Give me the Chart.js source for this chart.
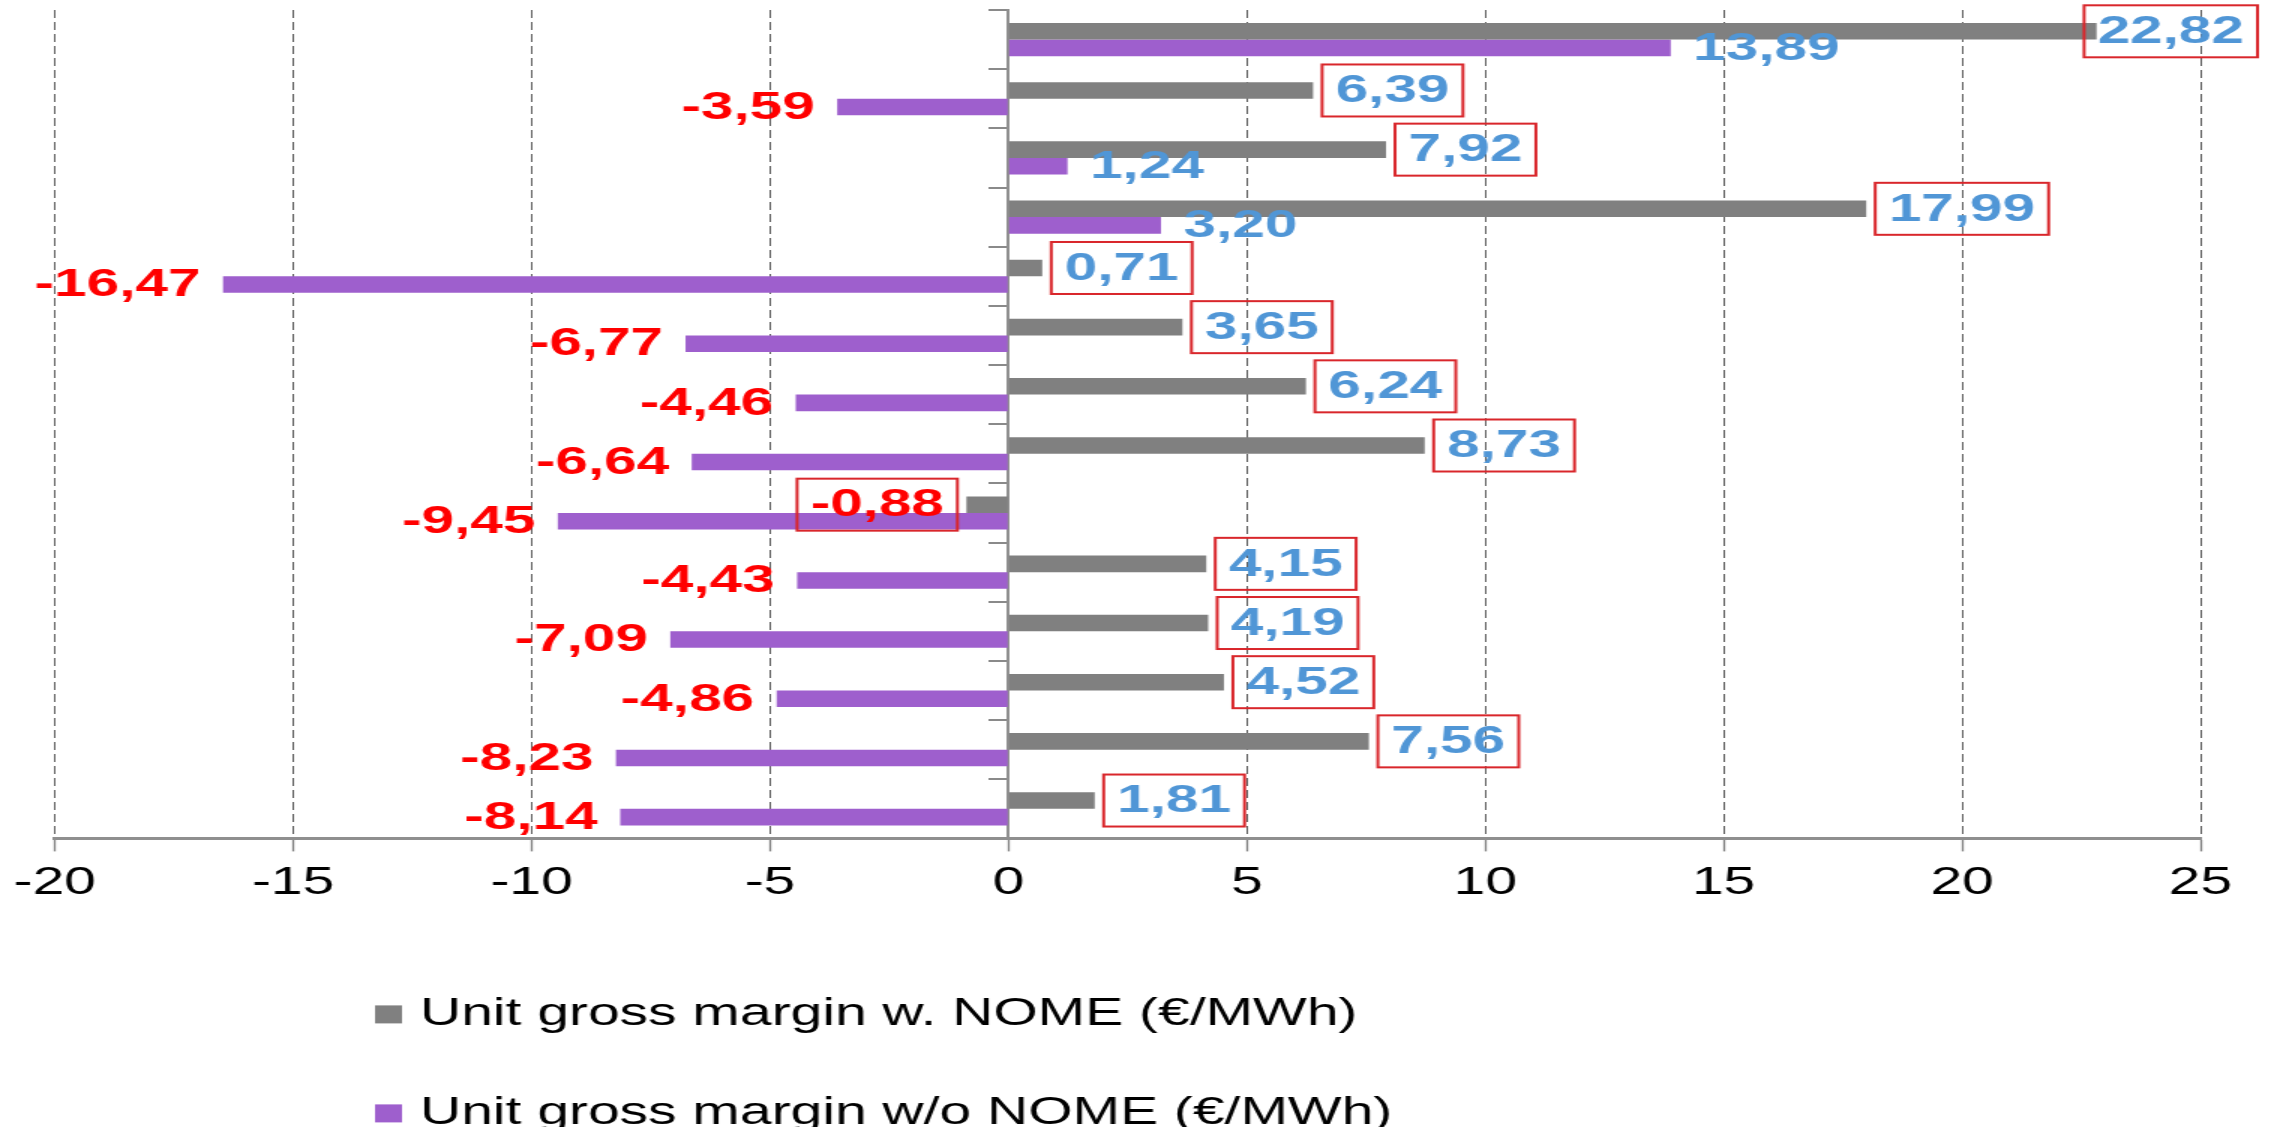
<!DOCTYPE html>
<html>
<head>
<meta charset="utf-8">
<script src="https://cdn.jsdelivr.net/npm/chart.js@4/dist/chart.umd.min.js"></script>
<style>
  html, body { margin: 0; padding: 0; background: #ffffff; overflow: hidden; }
  canvas { display: block; }
</style>
</head>
<body>
<!-- drawn at 1518 px wide and shown 1.5x wider, giving the wide lettering and proportions -->
<canvas id="chart" width="1518" height="1127" style="width:2277px;height:1127px"></canvas>
<script>
// Rows, top to bottom
const categories = ['1', '2', '3', '4', '5', '6', '7', '8', '9', '10', '11', '12', '13', '14'];

const seriesNames = [
  'Unit gross margin w. NOME (€/MWh)',
  'Unit gross margin w/o NOME (€/MWh)'
];

// Unit gross margin with NOME (€/MWh)
const marginWithNome = [22.82, 6.39, 7.92, 17.99, 0.71, 3.65, 6.24, 8.73, -0.88, 4.15, 4.19, 4.52, 7.56, 1.81];

// Unit gross margin without NOME (€/MWh)
const marginWithoutNome = [13.89, -3.59, 1.24, 3.20, -16.47, -6.77, -4.46, -6.64, -9.45, -4.43, -7.09, -4.86, -8.23, -8.14];

// Value axis ticks
const xTickValues = [-20, -15, -10, -5, 0, 5, 10, 15, 20, 25];

const seriesColors = ['#808080', '#9e5fcd'];

const formatValue = v => v.toFixed(2).replace('.', ',');

// Value labels: the first series gets a red frame, positives in blue, negatives in red
const valueLabels = {
  id: 'valueLabels',
  afterDatasetsDraw(chart) {
    const ctx = chart.ctx;
    ctx.save();
    ctx.font = 'bold 39px "Liberation Sans", Arial, sans-serif';
    ctx.textBaseline = 'middle';
    ctx.textAlign = 'left';
    const gap = 6, pad = 9, boxH = 52;
    const maxRight = chart.width - 13;
    chart.data.datasets.forEach((ds, di) => {
      const meta = chart.getDatasetMeta(di);
      meta.data.forEach((bar, i) => {
        const v = ds.data[i];
        const text = formatValue(v);
        const w = ctx.measureText(text).width;
        const neg = v < 0;
        let textX;
        if (di === 0) {
          const boxW = w + 2 * pad;
          let bx = neg ? bar.x - gap - boxW : bar.x + gap;
          if (bx + boxW > maxRight) bx = maxRight - boxW;
          ctx.strokeStyle = '#d9262b';
          ctx.lineWidth = 2;
          ctx.strokeRect(bx, bar.y - boxH / 2, boxW, boxH);
          textX = bx + pad;
        } else {
          textX = neg ? bar.x - gap - pad - w : bar.x + gap + pad;
        }
        ctx.fillStyle = neg ? '#ff0000' : '#5096d6';
        ctx.fillText(text, textX, bar.y + 1);
      });
    });
    ctx.restore();
  }
};

// Legend with one series per line under the plot
const stackedLegend = {
  id: 'stackedLegend',
  afterDraw(chart) {
    const ctx = chart.ctx;
    const base = chart.chartArea.bottom;
    ctx.save();
    ctx.font = '38px "Liberation Sans", Arial, sans-serif';
    ctx.textBaseline = 'middle';
    ctx.textAlign = 'left';
    const rowOffsets = [176, 275];
    chart.data.datasets.forEach((ds, i) => {
      const y = base + rowOffsets[i];
      ctx.fillStyle = ds.backgroundColor;
      ctx.fillRect(250, y - 9, 18, 18);
      ctx.fillStyle = '#000000';
      ctx.fillText(ds.label, 280, y);
    });
    ctx.restore();
  }
};

new Chart(document.getElementById('chart'), {
  type: 'bar',
  data: {
    labels: categories,
    datasets: [
      { label: seriesNames[0], data: marginWithNome, backgroundColor: seriesColors[0],
        categoryPercentage: 0.56, barPercentage: 1.0, borderWidth: 0 },
      { label: seriesNames[1], data: marginWithoutNome, backgroundColor: seriesColors[1],
        categoryPercentage: 0.56, barPercentage: 1.0, borderWidth: 0 }
    ]
  },
  options: {
    indexAxis: 'y',
    responsive: false,
    maintainAspectRatio: false,
    animation: false,
    devicePixelRatio: 1,
    layout: { padding: { left: 36, right: 51, top: 10, bottom: 212 } },
    plugins: {
      legend: { display: false },
      tooltip: { enabled: false }
    },
    scales: {
      x: {
        type: 'linear',
        min: -20,
        max: 25,
        afterBuildTicks: scale => { scale.ticks = xTickValues.map(v => ({ value: v })); },
        grid: {
          color: c => (c.tick && c.tick.value === 0) ? 'rgba(0,0,0,0)' : '#5e5e5e',
          lineWidth: 1,
          drawTicks: true,
          tickLength: 13,
          tickColor: '#7f7f7f',
          tickWidth: 1.3
        },
        border: { display: true, color: '#8f8f8f', width: 3, dash: [8, 4] },
        ticks: {
          color: '#000000',
          font: { family: '"Liberation Sans", Arial, sans-serif', size: 38 },
          padding: 9,
          maxRotation: 0,
          autoSkip: false
        }
      },
      y: {
        type: 'category',
        position: { x: 0 },
        offset: true,
        grid: {
          drawOnChartArea: false,
          drawTicks: true,
          tickLength: 12,
          color: '#8a8a8a',
          lineWidth: 2,
          offset: true
        },
        border: { display: true, color: '#8f8f8f', width: 2 },
        ticks: { display: false }
      }
    }
  },
  plugins: [valueLabels, stackedLegend]
});
</script>
</body>
</html>
